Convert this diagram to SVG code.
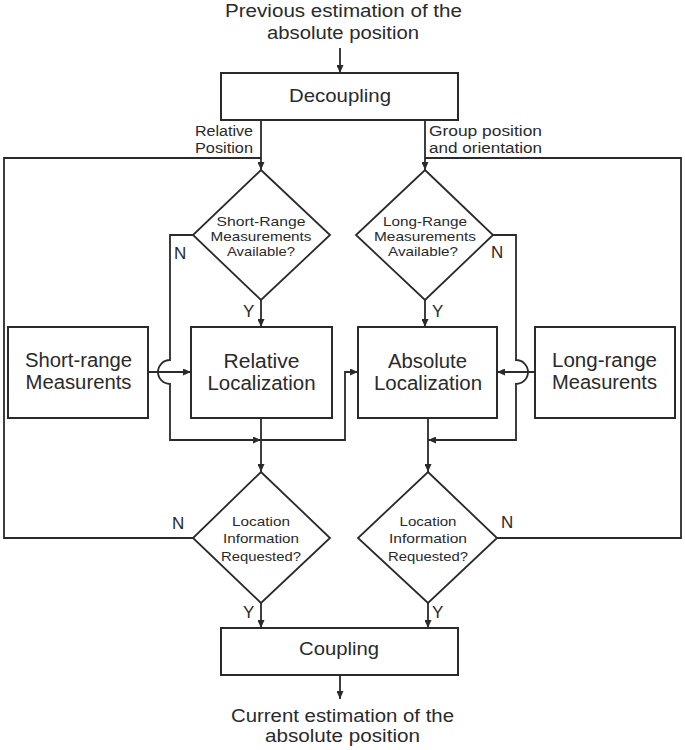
<svg xmlns="http://www.w3.org/2000/svg" width="685" height="750" viewBox="0 0 685 750">
<style>
  .box { fill: #fff; stroke: #2a2a2a; stroke-width: 2; }
  .dia { fill: #fff; stroke: #2a2a2a; stroke-width: 1.8; }
  .ln { fill: none; stroke: #2a2a2a; stroke-width: 1.8; }
  text { font-family: "Liberation Sans", Arial, sans-serif; fill: #2a2a2a; }
  .ttl { font-size: 17.5px; text-anchor: middle; }
  .big { font-size: 20px; text-anchor: middle; }
  .lbl { font-size: 14px; }
  .dt { font-size: 13.5px; text-anchor: middle; }
  .yn { font-size: 17px; }
</style>
<defs>
  <marker id="arr" markerUnits="userSpaceOnUse" markerWidth="8" markerHeight="7" refX="8" refY="3.5" orient="auto">
    <path d="M0,0 L8,3.5 L0,7 z" fill="#2a2a2a"/>
  </marker>
</defs>

<g id="input-text">
  <text class="ttl" x="343.5" y="17" textLength="237" lengthAdjust="spacingAndGlyphs">Previous estimation of the</text>
  <text class="ttl" x="343" y="39" textLength="152" lengthAdjust="spacingAndGlyphs">absolute position</text>
</g>

<g id="connectors">
  <path class="ln" d="M340,48 L340,73" marker-end="url(#arr)"/>
  <path class="ln" d="M261,120 L261,170" marker-end="url(#arr)"/>
  <path class="ln" d="M425,120 L425,170" marker-end="url(#arr)"/>
  <path class="ln" d="M261,300 L261,327" marker-end="url(#arr)"/>
  <path class="ln" d="M425,300 L425,327" marker-end="url(#arr)"/>
  <path class="ln" d="M193,235 L170,235 L170,360 A12,12 0 0,0 170,384 L170,440 L261,440" marker-end="url(#arr)"/>
  <path class="ln" d="M493,235 L516,235 L516,360 A12,12 0 0,1 516,384 L516,440 L428,440" marker-end="url(#arr)"/>
  <path class="ln" d="M148,372 L191,372" marker-end="url(#arr)"/>
  <path class="ln" d="M535,372 L497,372" marker-end="url(#arr)"/>
  <path class="ln" d="M261,440 L345,440 L345,372 L358,372" marker-end="url(#arr)"/>
  <path class="ln" d="M261,418 L261,472" marker-end="url(#arr)"/>
  <path class="ln" d="M428,418 L428,472" marker-end="url(#arr)"/>
  <path class="ln" d="M193,538 L4,538 L4,158 L261,158"/>
  <path class="ln" d="M497,538 L681,538 L681,158 L425,158"/>
  <path class="ln" d="M261,603 L261,628" marker-end="url(#arr)"/>
  <path class="ln" d="M428,603 L428,628" marker-end="url(#arr)"/>
  <path class="ln" d="M340,675 L340,699" marker-end="url(#arr)"/>
</g>

<g id="decoupling">
  <rect class="box" x="221" y="73" width="237" height="47"/>
  <text x="340" y="102" font-size="18.5" text-anchor="middle" textLength="102" lengthAdjust="spacingAndGlyphs">Decoupling</text>
</g>

<g id="edge-labels">
  <text class="lbl" x="195" y="136" textLength="58" lengthAdjust="spacingAndGlyphs">Relative</text>
  <text class="lbl" x="195" y="153" textLength="58" lengthAdjust="spacingAndGlyphs">Position</text>
  <text class="lbl" x="429" y="136" textLength="113" lengthAdjust="spacingAndGlyphs">Group position</text>
  <text class="lbl" x="429" y="153" textLength="113" lengthAdjust="spacingAndGlyphs">and orientation</text>
  <text class="yn" x="174" y="259">N</text>
  <text class="yn" x="243" y="317">Y</text>
  <text class="yn" x="491" y="258">N</text>
  <text class="yn" x="432" y="317">Y</text>
  <text class="yn" x="172" y="529">N</text>
  <text class="yn" x="243" y="618">Y</text>
  <text class="yn" x="501" y="528">N</text>
  <text class="yn" x="432" y="618">Y</text>
</g>

<g id="short-range-available">
  <polygon class="dia" points="261,170 330,235 261,300 193,235"/>
  <text class="dt" x="261" y="226" textLength="89" lengthAdjust="spacingAndGlyphs">Short-Range</text>
  <text class="dt" x="261" y="241" textLength="101" lengthAdjust="spacingAndGlyphs">Measurements</text>
  <text class="dt" x="261" y="256" textLength="68" lengthAdjust="spacingAndGlyphs">Available?</text>
</g>

<g id="long-range-available">
  <polygon class="dia" points="425,170 493,235 425,300 356,235"/>
  <text class="dt" x="425" y="226" textLength="84" lengthAdjust="spacingAndGlyphs">Long-Range</text>
  <text class="dt" x="425" y="241" textLength="102" lengthAdjust="spacingAndGlyphs">Measurements</text>
  <text class="dt" x="423" y="256" textLength="70" lengthAdjust="spacingAndGlyphs">Available?</text>
</g>

<g id="short-range-measurements">
  <rect class="box" x="8" y="327" width="140" height="91"/>
  <text class="big" x="78.5" y="367" textLength="107" lengthAdjust="spacingAndGlyphs">Short-range</text>
  <text class="big" x="78.5" y="389" textLength="106" lengthAdjust="spacingAndGlyphs">Measurents</text>
</g>

<g id="relative-localization">
  <rect class="box" x="191" y="327" width="141" height="91"/>
  <text class="big" x="261.5" y="368" textLength="76" lengthAdjust="spacingAndGlyphs">Relative</text>
  <text class="big" x="261.5" y="390" textLength="108" lengthAdjust="spacingAndGlyphs">Localization</text>
</g>

<g id="absolute-localization">
  <rect class="box" x="358" y="327" width="139" height="91"/>
  <text class="big" x="427.5" y="368" textLength="79" lengthAdjust="spacingAndGlyphs">Absolute</text>
  <text class="big" x="428" y="390" textLength="108" lengthAdjust="spacingAndGlyphs">Localization</text>
</g>

<g id="long-range-measurements">
  <rect class="box" x="535" y="327" width="140" height="91"/>
  <text class="big" x="604.5" y="367" textLength="105" lengthAdjust="spacingAndGlyphs">Long-range</text>
  <text class="big" x="604.5" y="389" textLength="105" lengthAdjust="spacingAndGlyphs">Measurents</text>
</g>

<g id="location-requested-left">
  <polygon class="dia" points="261,472 330,538 261,603 193,538"/>
  <text class="dt" x="261" y="526" textLength="58" lengthAdjust="spacingAndGlyphs">Location</text>
  <text class="dt" x="261" y="543" textLength="76" lengthAdjust="spacingAndGlyphs">Information</text>
  <text class="dt" x="261" y="561" textLength="80" lengthAdjust="spacingAndGlyphs">Requested?</text>
</g>

<g id="location-requested-right">
  <polygon class="dia" points="428,472 497,538 428,603 358,538"/>
  <text class="dt" x="428" y="526" textLength="57" lengthAdjust="spacingAndGlyphs">Location</text>
  <text class="dt" x="428" y="543" textLength="78" lengthAdjust="spacingAndGlyphs">Information</text>
  <text class="dt" x="428" y="561" textLength="80" lengthAdjust="spacingAndGlyphs">Requested?</text>
</g>

<g id="coupling">
  <rect class="box" x="221" y="628" width="237" height="47"/>
  <text x="339" y="655" font-size="18" text-anchor="middle" textLength="80" lengthAdjust="spacingAndGlyphs">Coupling</text>
</g>

<g id="output-text">
  <text class="ttl" x="342.5" y="722" textLength="223" lengthAdjust="spacingAndGlyphs">Current estimation of the</text>
  <text class="ttl" x="342.5" y="742" textLength="155" lengthAdjust="spacingAndGlyphs">absolute position</text>
</g>
</svg>
